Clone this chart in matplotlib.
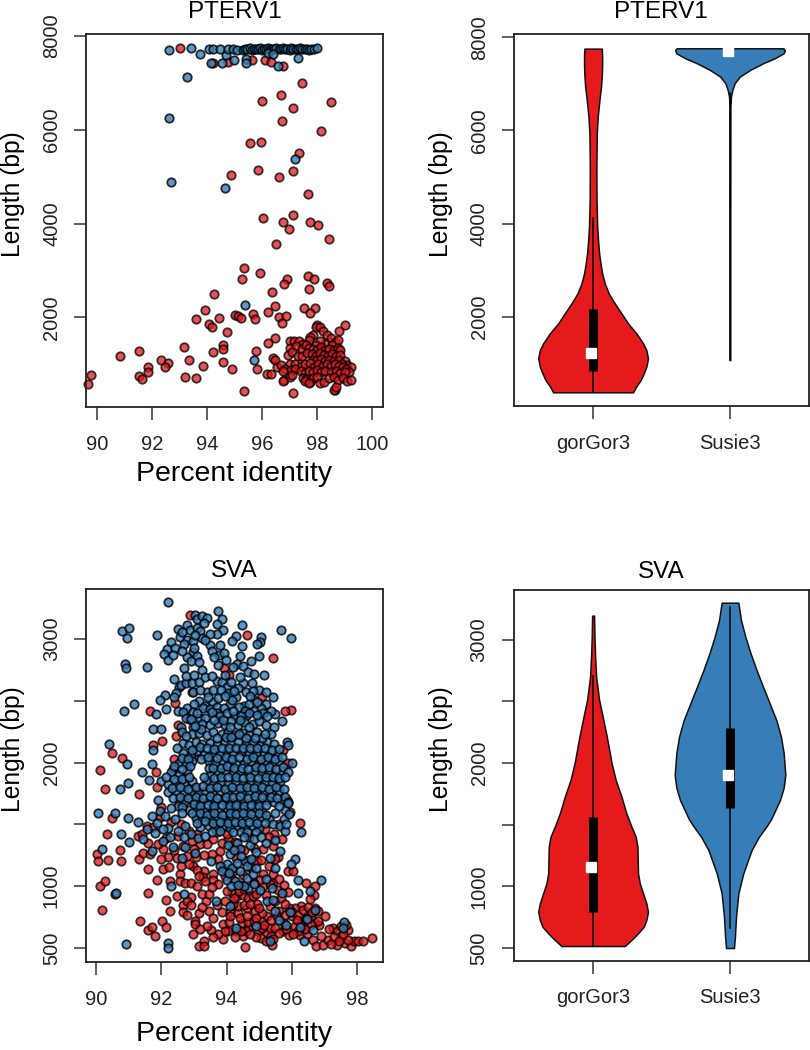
import matplotlib
matplotlib.use("Agg")
import matplotlib.pyplot as plt
import numpy as np

plt.rcParams["font.family"] = ["Liberation Sans", "DejaVu Sans"]

RED = "#E41A1C"
BLUE = "#377EB8"

# PTERV1 scatter, (percent identity, length)
pterv_red_sparse = [
    (93.0, 7740), (94.22, 7430), (94.77, 7450), (95.64, 7490), (96.1, 7490), (96.31, 7445), (96.75, 7350),
    (97.46, 7000), (96.7, 6735), (96.0, 6610), (98.5, 6590), (97.14, 6475), (96.72, 6185), (98.14, 5970),
    (95.56, 5715), (95.96, 5745), (97.34, 5495), (95.84, 5150), (97.12, 5120), (94.87, 5035), (96.6, 4990),
    (97.68, 4640), (97.14, 4190), (96.03, 4125), (96.77, 4040), (97.73, 4035), (98.05, 3970), (96.97, 3885),
    (98.45, 3680), (96.5, 3555), (95.35, 3055), (95.91, 2950), (95.28, 2815), (96.92, 2815), (96.8, 2715),
    (97.66, 2880), (97.9, 2815), (98.35, 2740), (98.43, 2665), (97.7, 2610), (96.36, 2545), (94.26, 2495),
    (96.48, 2240), (97.54, 2210), (97.94, 2190), (93.92, 2150), (96.23, 2120), (97.74, 2085), (95.67, 2080),
    (95.0, 2040), (95.13, 2030), (95.23, 1980), (95.75, 1960), (94.44, 1985), (96.63, 2005), (96.86, 2035),
    (93.58, 1965), (96.71, 1885), (94.08, 1850), (94.19, 1790), (94.72, 1695), (98.0, 1830), (99.02, 1835),
    (98.8, 1700), (96.46, 1560), (96.22, 1460), (94.59, 1405), (94.56, 1320), (93.17, 1360), (94.2, 1260),
    (95.76, 1285), (91.52, 1275), (90.84, 1175), (92.31, 1100), (93.33, 1100), (92.58, 1035), (94.59, 1055),
    (91.86, 935), (92.46, 935), (91.83, 830), (93.86, 970), (96.4, 1135), (96.48, 1080), (94.9, 895),
    (95.8, 895), (89.76, 770), (89.68, 580), (91.52, 745), (91.62, 690), (93.2, 725), (93.6, 715),
    (95.35, 430), (97.11, 385), (96.17, 795), (96.31, 795),
]
pterv_red_cluster = [
    (97.95, 1800), (98.1, 1790), (98.2, 1700), (97.85, 1620), (97.75, 1590), (97.7, 1520), (98.35, 1620),
    (98.5, 1560), (98.65, 1480), (98.75, 1510), (98.3, 1440), (98.55, 1400), (98.1, 1500), (97.95, 1420),
    (97.0, 1500), (97.15, 1490), (97.35, 1500), (97.5, 1440), (97.0, 1350), (97.25, 1380), (97.45, 1320),
    (97.6, 1400), (97.7, 1350), (97.85, 1330), (98.0, 1300), (98.15, 1370), (98.3, 1300), (98.45, 1330),
    (98.6, 1300), (98.75, 1340), (98.85, 1310), (96.95, 1200), (97.1, 1260), (97.3, 1180), (97.45, 1170),
    (97.65, 1230), (97.8, 1220), (97.95, 1170), (98.1, 1240), (98.25, 1190), (98.4, 1170), (98.55, 1220),
    (98.7, 1170), (98.85, 1190), (97.85, 1100), (98.0, 1080), (98.15, 1120), (98.3, 1070), (98.45, 1100),
    (98.6, 1060), (98.8, 1090), (99.0, 1060), (99.1, 990), (99.25, 950), (98.9, 1000), (97.0, 1000),
    (97.2, 1010), (97.4, 960), (97.55, 1000), (97.75, 1020), (97.9, 950), (98.05, 1000), (98.2, 960),
    (98.35, 1010), (98.5, 960), (98.65, 1000), (98.8, 960), (98.95, 940), (99.05, 900), (99.15, 830),
    (96.55, 940), (96.7, 980), (96.85, 900), (97.05, 880), (97.2, 900), (97.4, 850), (97.55, 820),
    (97.7, 850), (97.85, 830), (98.0, 880), (98.15, 830), (98.3, 860), (98.5, 840), (98.7, 860),
    (98.85, 820), (99.0, 830), (96.75, 850), (96.8, 670), (97.0, 720), (97.1, 760), (97.5, 710),
    (97.6, 680), (97.75, 620), (97.85, 700), (98.0, 720), (98.1, 610), (98.25, 620), (98.45, 700),
    (98.6, 720), (98.75, 660), (98.95, 700), (99.1, 650), (99.25, 660), (98.65, 450), (98.6, 460),
    (98.7, 510), (97.55, 650), (97.7, 600), (96.75, 650),
]
pterv_blue = [
    (92.6, 7700), (93.4, 7735), (93.75, 7610), (94.07, 7730), (94.2, 7730), (94.45, 7715), (94.7, 7600),
    (94.77, 7730), (94.95, 7730), (95.1, 7700), (95.3, 7700), (95.38, 7725), (95.46, 7720), (95.55, 7735),
    (95.62, 7710), (95.7, 7730), (95.78, 7725), (95.86, 7720), (95.93, 7735), (96.0, 7710), (96.08, 7730),
    (96.15, 7725), (96.2, 7735), (96.3, 7715), (96.36, 7730), (96.44, 7725), (96.52, 7735), (96.6, 7715),
    (96.68, 7730), (96.76, 7735), (96.84, 7720), (96.92, 7730), (97.0, 7700), (97.05, 7735), (97.14, 7720),
    (97.22, 7730), (97.3, 7725), (97.38, 7735), (97.46, 7715), (97.55, 7730), (97.62, 7725), (97.7, 7700),
    (97.78, 7730), (97.88, 7725), (98.0, 7735), (94.15, 7430), (94.55, 7430), (94.98, 7490), (95.4, 7500),
    (95.43, 7430), (96.57, 7360), (97.3, 7525), (96.2, 7630), (96.4, 7610), (93.25, 7135), (92.6, 6255),
    (92.68, 4885), (97.18, 5370), (94.66, 4750), (95.38, 2262), (95.72, 1090),
]

# SVA scatter, (percent identity, length)
sva_red = [
    (90.02, 1257), (90.07, 1203), (90.38, 1216), (90.74, 1292), (90.76, 1203), (90.48, 1554), (90.33, 1424),
    (90.12, 1000), (90.28, 1040), (90.18, 811), (91.3, 1405), (91.32, 1224), (91.45, 1270), (91.65, 1257),
    (91.6, 1140), (91.86, 1054), (91.6, 946), (92.04, 1143), (92.24, 1157), (92.13, 886), (92.27, 1046),
    (92.27, 797), (91.35, 716), (91.6, 649), (91.7, 670), (91.81, 600), (92.01, 716), (92.14, 668),
    (92.57, 1100), (92.57, 1040), (92.74, 1027), (92.9, 1022), (93.08, 1000), (92.47, 924), (92.66, 851),
    (92.9, 913), (92.78, 878), (92.9, 851), (92.68, 789), (92.78, 770), (93.16, 784), (93.24, 940),
    (93.37, 878), (93.47, 940), (93.31, 1122), (93.29, 1076), (93.6, 1095), (93.6, 1054), (93.46, 797),
    (93.6, 743), (93.03, 716), (93.03, 695), (92.98, 616), (93.52, 643), (93.88, 573), (93.17, 519),
    (93.31, 554), (93.31, 514), (94.57, 511), (93.9, 697), (94.05, 635), (94.08, 708), (93.85, 789),
    (94.1, 792), (94.36, 784), (94.46, 703), (94.51, 595), (94.67, 662), (94.67, 708), (94.84, 716),
    (95.08, 716), (94.97, 635), (95.23, 622), (95.33, 662), (95.49, 662), (95.23, 757), (94.87, 797),
    (94.62, 824), (95.38, 527), (95.74, 635), (95.92, 608), (96.1, 676), (96.25, 608), (96.46, 616),
    (96.71, 703), (96.84, 689), (96.66, 568), (96.74, 514), (96.95, 522), (97.12, 568), (97.38, 527),
    (97.27, 662), (97.38, 635), (97.5, 600), (97.73, 643), (97.63, 541), (97.83, 519), (97.9, 554),
    (98.04, 554), (98.19, 554), (98.47, 581), (97.73, 568), (97.02, 762), (96.71, 824), (96.3, 838),
    (96.1, 824), (95.92, 824), (96.5, 770), (96.68, 932), (96.71, 1000), (96.44, 1022), (96.25, 1508),
    (95.89, 1122), (94.16, 946), (94.31, 919), (94.51, 932), (94.67, 905), (94.82, 919), (94.36, 843),
    (94.0, 959), (95.13, 1095), (95.13, 1005), (95.43, 1095), (95.43, 1027), (95.33, 1014), (95.59, 973),
    (94.41, 1297), (94.16, 1311), (93.8, 1284), (93.6, 1378), (93.19, 1338), (92.93, 1365), (92.68, 1324),
    (92.78, 1243), (92.98, 1162), (92.47, 1230), (92.06, 1297), (95.18, 1460), (95.46, 1424), (95.43, 1324),
    (95.13, 1297), (95.59, 1238), (94.92, 1203), (94.67, 1216), (91.55, 1486), (91.65, 2414), (95.43, 2846),
    (94.62, 3035), (93.92, 2765), (94.08, 2711), (95.98, 2424), (95.79, 2414), (92.03, 2176), (91.76, 2143),
    (90.48, 2076), (90.8, 2041), (90.12, 1943), (90.26, 1784), (91.83, 1924), (91.88, 1805), (91.32, 1743),
    (92.45, 2219), (95.74, 2103), (92.93, 2570), (95.08, 2535), (92.88, 3197), (93.1, 1130), (93.9, 1150),
    (94.2, 1120), (93.75, 1020), (94.45, 1010), (93.95, 880), (94.2, 860), (94.55, 850), (94.95, 860),
    (95.6, 800), (95.1, 780), (94.3, 640), (94.6, 640), (95.05, 580), (95.35, 600), (95.75, 700),
    (96.0, 760), (96.35, 690), (96.6, 760), (96.8, 800),
]
sva_red_extra = [
    (94.22, 905), (94.38, 965), (94.55, 975), (94.72, 860), (94.9, 940), (95.02, 1050), (95.22, 930),
    (95.0, 825), (95.32, 840), (95.5, 880), (95.66, 905), (95.8, 860), (96.02, 790), (96.18, 770),
    (96.34, 808), (96.5, 830), (96.62, 790), (96.82, 720), (96.58, 690), (96.42, 650), (96.2, 640),
    (96.05, 610), (95.82, 655), (95.62, 620), (95.44, 570), (95.2, 560), (95.1, 660), (94.9, 590),
    (94.72, 610), (94.45, 640), (94.25, 590), (94.12, 760), (94.4, 740), (94.62, 760), (94.9, 740),
    (95.14, 690), (95.36, 730), (95.55, 760), (95.78, 770), (93.95, 640), (93.75, 610), (93.6, 590),
    (93.4, 680), (93.2, 650), (93.25, 830), (93.7, 845), (93.55, 990), (93.35, 1040), (93.15, 1080),
    (93.75, 1220), (93.55, 1260), (93.3, 1250), (93.05, 1235), (92.85, 1180), (92.6, 1160), (92.4, 1290),
    (92.2, 1240), (92.0, 1220), (91.9, 1340), (91.6, 1350), (91.4, 1420), (91.75, 1480), (92.15, 1390),
    (92.5, 1410), (92.85, 1450), (93.1, 1420), (93.4, 1340), (94.05, 1380), (94.3, 1230), (94.55, 1290),
    (94.85, 1310), (95.05, 1210), (95.3, 1160), (95.5, 1220), (94.75, 1145), (94.5, 1090), (94.2, 1050),
    (93.95, 1080), (94.85, 1030), (95.6, 1060), (95.75, 1010), (95.9, 950), (96.05, 1120), (96.55, 900),
    (97.15, 650), (97.3, 590), (97.45, 560), (97.58, 610), (97.2, 530), (96.9, 600), (97.5, 680),
    (97.65, 690), (96.3, 700), (96.15, 730), (96.45, 735), (93.0, 1300), (92.6, 1500), (92.3, 1520),
    (92.0, 1640), (91.95, 1560), (92.55, 1690), (92.35, 1950), (92.4, 2030), (92.5, 2300), (92.42, 2480),
    (95.9, 2000), (95.85, 1700), (95.95, 1600), (93.05, 1790), (93.0, 2050), (94.0, 1420), (93.7, 1440),
    (95.3, 1400), (95.6, 1500), (95.7, 1380), (93.85, 1350), (94.25, 1360), (94.7, 1400),
]
sva_blue_upper = [
    (92.2, 3297), (93.75, 3230), (93.85, 3162), (93.72, 3124), (93.9, 3075), (93.7, 3043), (93.03, 3197),
    (93.08, 3162), (93.26, 3183), (93.4, 3170), (93.3, 3130), (92.78, 3116), (92.52, 3081), (92.88, 3075),
    (93.08, 3089), (93.19, 3062), (92.57, 3016), (92.78, 2995), (92.98, 2981), (93.24, 3008), (93.49, 2954),
    (93.8, 2954), (94.46, 3110), (94.29, 3027), (94.18, 2986), (95.05, 3016), (95.03, 2973), (94.92, 2962),
    (95.66, 3070), (95.98, 3008), (94.46, 2940), (90.79, 3068), (91.02, 3089), (90.96, 3005), (91.86, 3032),
    (90.89, 2800), (90.92, 2765), (91.55, 2776), (92.3, 2973), (92.17, 2919), (92.42, 2927), (92.09, 2881),
    (92.22, 2832), (92.37, 2873), (92.98, 2892), (92.78, 2854), (93.08, 2860), (92.9, 2819), (93.16, 2811),
    (93.24, 2751), (92.7, 2765), (93.78, 2873), (93.92, 2886), (93.98, 2832), (93.75, 2790), (94.4, 2860),
    (94.32, 2800), (94.5, 2780), (94.75, 2825), (95.0, 2860), (94.2, 2770), (94.65, 2730), (94.85, 2720),
    (95.15, 2710), (92.4, 2680), (92.55, 2610), (92.45, 2560), (92.4, 2530), (92.6, 2630), (92.75, 2640),
    (92.95, 2640), (93.15, 2650), (93.4, 2570), (93.7, 2660), (93.85, 2650), (94.0, 2610), (94.05, 2560),
    (94.5, 2640), (94.35, 2600), (94.6, 2570), (95.0, 2590), (92.1, 2545), (91.95, 2510), (91.15, 2470),
    (90.85, 2415), (92.13, 2430), (91.85, 2390), (92.5, 2420), (92.8, 2440), (92.65, 2410), (93.15, 2500),
    (93.0, 2470), (93.35, 2460), (93.6, 2490), (93.75, 2520), (94.1, 2470), (94.3, 2530), (94.55, 2460),
    (94.85, 2510), (95.2, 2470), (95.42, 2530), (95.5, 2390), (95.7, 2340), (95.35, 2420), (95.05, 2440),
    (91.75, 2270), (92.0, 2270), (92.6, 2290), (92.62, 2250), (90.4, 2150), (91.75, 2100), (92.85, 2350),
    (91.7, 1990), (90.95, 1990), (91.4, 1920), (91.62, 1860), (90.98, 1835), (90.72, 1790),
    (93.5, 3040), (93.02, 3030), (92.7, 2960), (92.62, 3060), (93.35, 2990), (93.55, 2905), (93.0, 2925),
    (92.62, 2905), (93.62, 2850), (92.75, 2700), (93.0, 2710), (93.35, 2690), (93.55, 2700), (93.95, 2710),
    (94.15, 2650), (94.42, 2690), (94.78, 2640), (92.98, 2570), (93.2, 2590), (93.6, 2590), (93.82, 2590),
    (94.22, 2575), (94.82, 2580), (95.22, 2570), (93.28, 2440), (93.5, 2430), (93.72, 2450), (93.92, 2440),
    (94.18, 2510), (94.38, 2450), (94.68, 2470), (94.95, 2490), (95.12, 2400), (92.98, 2410), (93.42, 2530),
    (93.95, 2540), (94.72, 2540), (94.25, 2380), (94.58, 2420), (94.85, 2420), (93.2, 2360), (93.7, 2400),
    (92.75, 2360), (92.98, 2290), (94.6, 2380), (95.25, 2380),
]
sva_blue_core = [
    (92.9, 2350), (93.1, 2400), (93.35, 2360), (93.55, 2410), (93.8, 2380), (94.0, 2400), (94.2, 2420),
    (94.45, 2380), (94.7, 2400), (93.25, 2310), (93.5, 2300), (93.75, 2320), (93.95, 2300), (94.15, 2340),
    (94.35, 2300), (94.55, 2330), (94.8, 2310), (95.0, 2340), (95.2, 2300), (95.45, 2290), (92.95, 2230),
    (93.15, 2240), (93.4, 2220), (93.6, 2250), (93.85, 2230), (94.05, 2250), (94.25, 2220), (94.5, 2240),
    (94.7, 2220), (94.95, 2250), (95.35, 2230), (92.65, 2160), (92.85, 2140), (93.05, 2170),
    (93.25, 2150), (93.5, 2160), (93.7, 2140), (93.95, 2170), (94.15, 2150), (94.35, 2170), (94.6, 2150),
    (94.8, 2160), (95.05, 2140), (95.25, 2170), (95.45, 2150), (95.85, 2170), (95.9, 2140), (92.65, 2080),
    (92.9, 2060), (93.1, 2090), (93.3, 2060), (93.55, 2080), (93.8, 2060), (94.0, 2090), (94.2, 2070),
    (94.45, 2090), (94.7, 2070), (94.9, 2080), (95.15, 2060), (95.35, 2090), (95.55, 2060),
    (96.0, 2000), (92.55, 2000), (92.75, 1990), (92.95, 2010), (93.45, 2010), (93.65, 1990),
    (93.9, 2010), (94.1, 1980), (94.3, 2000), (94.55, 1990), (94.75, 2010), (95.0, 1990), (95.2, 2010),
    (95.4, 1980), (95.6, 2010), (92.3, 1920), (92.55, 1900), (92.8, 1930),
    (93.5, 1900), (93.75, 1920), (93.95, 1930), (94.2, 1910), (94.4, 1930), (94.65, 1900),
    (94.85, 1920), (95.1, 1910), (95.3, 1930), (95.5, 1900), (95.7, 1930), (92.0, 1850), (92.2, 1830),
    (92.45, 1850), (92.7, 1830), (92.95, 1850), (93.4, 1850), (93.6, 1830), (93.85, 1850),
    (94.05, 1830), (94.3, 1850), (94.5, 1830), (94.75, 1850), (94.95, 1830), (95.2, 1850), (95.4, 1830),
    (95.65, 1850), (92.2, 1760), (92.45, 1770), (92.7, 1750), (92.9, 1770), (93.15, 1750),
    (93.35, 1770), (93.6, 1750), (93.8, 1770), (94.05, 1750), (94.25, 1770), (94.5, 1750), (94.7, 1770),
    (94.95, 1750), (95.15, 1770), (95.4, 1750), (95.6, 1770), (91.9, 1700), (92.7, 1680),
    (92.95, 1700), (93.2, 1680), (93.45, 1700), (93.65, 1680), (93.9, 1700), (94.1, 1680), (94.35, 1700),
    (94.55, 1680), (94.8, 1700), (95.0, 1680), (95.25, 1700), (95.45, 1680), (95.7, 1700), (92.85, 1620),
    (93.1, 1630), (93.3, 1610), (93.55, 1630), (93.75, 1610), (94.0, 1630), (94.2, 1610), (94.45, 1630),
    (94.65, 1610), (94.9, 1630), (95.1, 1610), (95.8, 1620), (93.05, 1550),
    (93.25, 1560), (93.5, 1540), (93.7, 1560), (93.95, 1540), (94.15, 1560), (94.4, 1540), (94.6, 1560),
    (94.85, 1540), (95.05, 1560), (95.3, 1540), (93.2, 1480), (93.45, 1490), (93.65, 1470), (93.9, 1490),
    (94.1, 1470), (94.35, 1490), (94.55, 1470), (94.8, 1490), (95.0, 1470),
]
sva_blue_fill = [
    (93.22, 2275), (93.62, 2345), (93.9, 2345), (94.1, 2285), (94.42, 2345), (94.68, 2285), (94.92, 2385),
    (95.1, 2195), (93.02, 2295), (93.7, 2195), (93.98, 2210), (94.15, 2205), (94.38, 2235), (94.6, 2195),
    (94.88, 2195), (95.18, 2230), (92.75, 2215), (92.95, 2105), (93.18, 2125), (93.4, 2115), (93.62, 2110),
    (93.85, 2115), (94.08, 2120), (94.28, 2115), (94.52, 2120), (94.72, 2115), (94.95, 2120), (95.18, 2115),
    (95.4, 2105), (95.62, 2110), (92.48, 2115), (92.62, 2035), (92.82, 2025), (93.22, 2030), (93.42, 2045),
    (93.72, 2035), (93.98, 2045), (94.18, 2030), (94.38, 2045), (94.62, 2030), (94.82, 2045), (95.05, 2025),
    (95.28, 2045), (95.48, 2030), (95.7, 2045), (92.4, 1970), (92.62, 1950), (92.88, 1970),
    (93.45, 1955), (93.58, 1960), (93.82, 1960), (94.02, 1970), (94.22, 1960), (94.48, 1960), (94.65, 1950),
    (94.9, 1965), (95.1, 1960), (95.3, 1965), (95.52, 1950), (95.72, 1965), (95.9, 1920), (92.15, 1885),
    (92.4, 1870), (92.62, 1865), (92.85, 1880), (93.3, 1885), (93.62, 1875), (93.82, 1880), (94.05, 1880),
    (94.28, 1885), (94.52, 1875), (94.72, 1880), (94.98, 1875), (95.2, 1885), (95.42, 1880), (95.6, 1875),
    (95.8, 1880), (92.32, 1795), (92.58, 1800), (92.82, 1790), (93.05, 1800), (93.28, 1810), (93.48, 1795),
    (93.72, 1800), (93.95, 1790), (94.18, 1805), (94.4, 1795), (94.62, 1805), (94.85, 1795), (95.08, 1805),
    (95.3, 1790), (95.52, 1805), (95.75, 1790), (92.35, 1715), (92.58, 1720), (92.82, 1715), (93.05, 1725),
    (93.28, 1715), (93.5, 1730), (93.72, 1715), (93.98, 1725), (94.2, 1720), (94.42, 1730), (94.65, 1715),
    (94.88, 1730), (95.1, 1720), (95.35, 1725), (95.55, 1715), (95.78, 1725), (92.5, 1650), (92.62, 1640),
    (93.0, 1665), (93.2, 1645), (93.42, 1660), (93.62, 1650), (93.85, 1660), (94.1, 1650), (94.3, 1660),
    (94.55, 1650), (94.75, 1660), (95.0, 1645), (95.2, 1660), (95.6, 1650), (95.9, 1680), (92.95, 1590),
    (93.18, 1595), (93.4, 1580), (93.62, 1595), (93.85, 1580), (94.1, 1595), (94.3, 1585), (94.52, 1595),
    (94.75, 1585), (95.0, 1595), (95.2, 1580), (95.5, 1590), (95.75, 1540), (93.1, 1510), (93.35, 1525),
    (93.58, 1510), (93.8, 1520), (94.05, 1515), (94.25, 1520), (94.48, 1510), (94.7, 1520), (94.95, 1510),
    (95.18, 1515), (95.42, 1500), (95.65, 1490), (93.55, 1440), (93.8, 1445), (94.2, 1440), (94.45, 1440),
    (94.62, 1435), (94.9, 1435),
]
sva_blue_lower = [
    (90.07, 1595), (90.58, 1595), (90.99, 1549), (91.3, 1522), (90.76, 1419), (91.02, 1360), (90.17, 1305),
    (90.58, 941), (90.6, 948), (90.92, 535), (92.19, 541), (92.22, 500), (92.29, 1005), (92.7, 940),
    (93.68, 878), (93.51, 1203), (93.03, 1270), (92.63, 1230), (92.37, 1319), (92.73, 1316), (91.71, 1284),
    (91.45, 1378), (92.06, 1365), (91.81, 1432), (91.55, 1459), (91.86, 1514), (91.71, 1568), (92.22, 1473),
    (94.1, 838), (94.29, 662), (94.9, 676), (95.33, 554), (96.37, 554), (96.25, 670), (96.66, 649),
    (97.6, 708), (97.58, 662), (96.71, 811), (96.46, 735), (95.84, 689), (95.62, 730), (95.49, 797),
    (95.94, 792), (95.23, 878), (95.43, 892), (95.69, 946), (95.38, 986), (95.03, 973), (94.67, 986),
    (94.84, 1014), (94.62, 1068), (94.82, 1095), (95.49, 1149), (96.2, 1054), (96.18, 946), (96.56, 959),
    (96.9, 1054), (96.1, 1222), (95.99, 1176), (96.28, 1441), (95.64, 1284), (95.33, 1230), (94.57, 1203),
    (94.31, 1351), (94.41, 1297), (94.1, 1257), (94.0, 1176), (93.8, 1162), (93.85, 1122), (94.0, 1054),
    (94.26, 1040), (94.41, 1122), (95.79, 1446), (95.92, 1581), (95.84, 1500), (95.9, 1670),
    (91.95, 1610), (92.12, 1570), (92.3, 1630), (92.42, 1540), (92.62, 1590), (92.72, 1490), (92.5, 1450),
    (92.9, 1420), (92.28, 1395), (94.45, 1245), (94.72, 1330), (94.9, 1280), (94.62, 1160), (94.18, 1150),
    (94.32, 1190), (94.9, 1150), (94.15, 1000), (94.75, 1220), (93.12, 1390), (93.35, 1410), (92.7, 1400),
    (92.05, 1460), (94.05, 1330), (94.22, 1290), (94.55, 1400), (94.85, 1380), (95.05, 1400), (95.22, 1350),
    (95.5, 1370), (94.55, 1000), (94.35, 1010), (95.2, 1060), (94.08, 1110),
]

# violin outlines, (length, half width in x units)
pterv_gor_outline = [
    (378, 0.292), (498, 0.314), (642, 0.348), (785, 0.370), (927, 0.389), (1107, 0.401), (1285, 0.389),
    (1429, 0.365), (1644, 0.316), (1858, 0.255), (2073, 0.207), (2287, 0.158), (2502, 0.114), (2717, 0.085),
    (2931, 0.066), (3146, 0.054), (3360, 0.044), (3646, 0.036), (3930, 0.030), (4510, 0.025), (5220, 0.024),
    (5940, 0.027), (6300, 0.034), (6650, 0.046), (6940, 0.058), (7200, 0.064), (7440, 0.066), (7620, 0.066),
    (7757, 0.063),
]
pterv_sus_outline = [
    (1070, 0.002), (4000, 0.002), (6500, 0.003), (6725, 0.007), (6870, 0.017), (7013, 0.034), (7155, 0.071),
    (7298, 0.146), (7442, 0.241), (7549, 0.326), (7657, 0.392), (7720, 0.401), (7764, 0.390),
]
sva_gor_outline = [
    (516, 0.231), (565, 0.280), (619, 0.328), (673, 0.370), (727, 0.389), (794, 0.401), (862, 0.389),
    (943, 0.365), (1024, 0.341), (1106, 0.328), (1214, 0.326), (1321, 0.324), (1403, 0.311), (1484, 0.280),
    (1592, 0.243), (1727, 0.207), (1862, 0.165), (2000, 0.135), (2214, 0.100), (2376, 0.070), (2511, 0.044),
    (2700, 0.022), (2862, 0.015), (3024, 0.010), (3195, 0.007),
]
sva_sus_outline = [
    (500, 0.029), (592, 0.036), (754, 0.044), (943, 0.061), (1105, 0.097), (1295, 0.158), (1400, 0.210),
    (1484, 0.265), (1544, 0.300), (1700, 0.365), (1800, 0.392), (1903, 0.404), (2079, 0.392), (2214, 0.372),
    (2349, 0.338), (2619, 0.241), (2750, 0.195), (2890, 0.150), (3024, 0.112), (3160, 0.080), (3300, 0.061),
]

# whisker low/high, box low/high, median for each violin
pterv_gor_stats = [378, 4110, 835, 2158, 1215]
pterv_sus_stats = [1070, 6800, 7700, 7700, 7706]
sva_gor_stats = [516, 2705, 792, 1560, 1160]
sva_sus_stats = [660, 3262, 1632, 2281, 1903]

group_names = ["gorGor3", "Susie3"]


def px_axes(fig, left, top, right, bottom):
    w, h = fig.get_size_inches() * fig.dpi
    return fig.add_axes([left / w, 1 - bottom / h, (right - left) / w, (bottom - top) / h])


def r_style(ax):
    for s in ax.spines.values():
        s.set_linewidth(1.3)
        s.set_color("#222222")
    ax.tick_params(length=9, width=1.1, color="#333333", labelsize=14.5, labelcolor="#222222")
    for lab in ax.get_yticklabels():
        lab.set_rotation(90)
        lab.set_va("center")


def scatter_panel(ax, red, blue, title, xticks, yticks, ylabels, xlim, ylim, title_pad, xlabel_pad):
    for pts, col, a in [(red, RED, 0.75), (blue, BLUE, 0.8)]:
        arr = np.array(pts)
        ax.scatter(arr[:, 0], arr[:, 1], s=37, color=col, alpha=a, edgecolors="black", linewidths=1.3, clip_on=False)
    ax.set_xlim(xlim)
    ax.set_ylim(ylim)
    ax.set_xticks(xticks)
    ax.set_yticks(yticks, ylabels)
    ax.set_title(title, fontsize=17.5, pad=title_pad)
    ax.set_xlabel("Percent identity", fontsize=20.5, labelpad=xlabel_pad)
    ax.set_ylabel("Length (bp)", fontsize=17.7, labelpad=12, y=0.57)
    ax.tick_params(axis="x", pad=11)
    ax.tick_params(axis="y", pad=9)
    r_style(ax)


def violin(ax, pos, outline, stats, col):
    arr = np.array(outline)
    ax.fill_betweenx(arr[:, 0], pos - arr[:, 1], pos + arr[:, 1], facecolor=col, edgecolor="#111111", linewidth=1.1)
    ax.plot([pos, pos], stats[:2], color="black", lw=1.1)
    ax.plot([pos, pos], stats[2:4], color="black", lw=6.5, solid_capstyle="butt")
    ax.plot([pos - 0.015], [stats[4]], marker="s", ms=6.5, color="white", mec="white", ls="none")


def violin_panel(ax, gor, gor_stats, sus, sus_stats, title, yticks, ylabels, ylim, title_pad):
    violin(ax, 1, gor, gor_stats, RED)
    violin(ax, 2, sus, sus_stats, BLUE)
    ax.set_xlim(0.42, 2.577)
    ax.set_ylim(ylim)
    ax.set_xticks([1, 2], group_names)
    ax.set_yticks(yticks, ylabels)
    ax.set_title(title, fontsize=17.5, pad=title_pad)
    ax.set_ylabel("Length (bp)", fontsize=17.7, labelpad=12, y=0.57)
    ax.tick_params(axis="x", pad=11)
    ax.tick_params(axis="y", pad=9)
    r_style(ax)


fig = plt.figure(figsize=(8.1, 10.5), dpi=100)

pterv_ticks = [2000, 4000, 6000, 8000]
sva_ticks = [500, 1000, 1500, 2000, 2500, 3000]
sva_labels = ["500", "1000", "", "2000", "", "3000"]

ax1 = px_axes(fig, 86, 34, 383, 407)
scatter_panel(ax1, pterv_red_sparse + pterv_red_cluster, pterv_blue, "PTERV1",
              [90, 92, 94, 96, 98, 100], pterv_ticks, [str(t) for t in pterv_ticks],
              (89.59, 100.4), (88, 8043), 11.5, 5)

ax2 = px_axes(fig, 513.7, 34, 809, 406)
violin_panel(ax2, pterv_gor_outline, pterv_gor_stats, pterv_sus_outline, pterv_sus_stats, "PTERV1",
             pterv_ticks, [str(t) for t in pterv_ticks], (84, 8071), 11.5)

ax3 = px_axes(fig, 86, 589, 383, 962)
scatter_panel(ax3, sva_red + sva_red_extra, sva_blue_upper + sva_blue_core + sva_blue_fill + sva_blue_lower, "SVA",
              [90, 92, 94, 96, 98], sva_ticks, sva_labels,
              (89.69, 98.8), (387, 3404), 8.6, 9)

ax4 = px_axes(fig, 513.7, 590, 809, 960.7)
violin_panel(ax4, sva_gor_outline, sva_gor_stats, sva_sus_outline, sva_sus_stats, "SVA",
             sva_ticks, sva_labels, (397, 3403), 8.6)

fig.savefig("out.png", dpi=100)
